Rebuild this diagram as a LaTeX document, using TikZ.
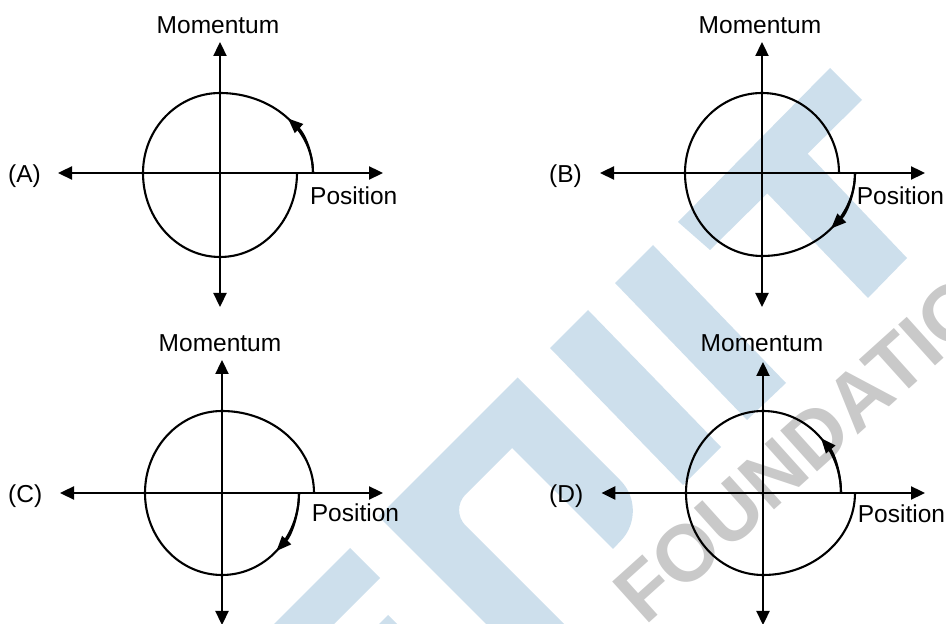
\documentclass[tikz,border=0pt]{standalone}
\usepackage{fontspec}
\setmainfont{Liberation Sans}
\usetikzlibrary{arrows.meta}
\definecolor{wmblue}{RGB}{205,223,236}
\definecolor{wmgray}{RGB}{201,201,201}
\begin{document}
\begin{tikzpicture}[x=1pt,y=1pt,
  axis/.style={line width=2.3pt, {Triangle[length=14pt,width=13pt]}-{Triangle[length=14pt,width=13pt]}},
  orbit/.style={line width=2.1pt},
  dirtip/.style={line width=2.1pt, -{Triangle[length=15pt,width=12pt]}},
  lbl/.style={inner sep=0pt, font=\fontsize{24.5}{29}\selectfont},
  band/.style={fill=wmblue, draw=none}]
\useasboundingbox (0,0) rectangle (946,624);
\clip (0,0) rectangle (946,624);
% watermark
\fill[band] (830,556) -- (862,524) -- (710,374) -- (678,402) -- cycle;
\fill[band] (807,471) -- (907,366) -- (868,326) -- (767,431) -- cycle;
\fill[band] (653,379) -- (786,241) -- (747,204) -- (615,341) -- cycle;
\fill[band] (588,314) -- (721,177) -- (683,139) -- (550,276) -- cycle;
\fill[band] (541,-16) -- (502,-16) -- (378.5,107.5) -- (517.5,246.5) [rounded corners=42] -- (650,114) [sharp corners] -- (613,75) -- (512,176) [rounded corners=22] -- (450,114) [sharp corners] -- (580,-16) -- cycle;
\fill[band] (350,76) -- (380,46) -- (318,-16) -- (258,-16) -- cycle;
\fill[band] (388,9) -- (412,-15) -- (364,-15) -- cycle;
\node[rotate=42, anchor=base west, inner sep=0pt, text=wmgray, font=\bfseries\fontsize{80}{90}\selectfont] (wm) at (645,-3) {FOUNDATION};
% Panel A
\begin{scope}[shift={(220,451)}]
  \coordinate (A-l) at (-162,0); \coordinate (A-r) at (163,0);
  \coordinate (A-t) at (0,131); \coordinate (A-b) at (0,-134);
  \draw[axis] (A-l) -- (A-r);
  \draw[axis] (A-b) -- (A-t);
  \draw[orbit] (93,0) arc[start angle=0,end angle=90,x radius=93,y radius=80]
    arc[start angle=90,end angle=180,x radius=77,y radius=80]
    arc[start angle=180,end angle=270,x radius=77,y radius=84]
    arc[start angle=270,end angle=360,x radius=77,y radius=84];
  \draw[dirtip] (93,0) arc[start angle=0,end angle=43,x radius=93,y radius=80];
  \node[lbl,anchor=base] (A-mom) at (-2,139.7) {Momentum};
  \node[lbl,anchor=base west] (A-pos) at (90,-32) {Position};
  \node[lbl,anchor=base west] (A-lab) at (-212,-10) {(A)};
\end{scope}
% Panel B
\begin{scope}[shift={(762,451)}]
  \coordinate (B-l) at (-162,0); \coordinate (B-r) at (163,0);
  \coordinate (B-t) at (0,131); \coordinate (B-b) at (0,-134);
  \draw[axis] (B-l) -- (B-r);
  \draw[axis] (B-b) -- (B-t);
  \draw[orbit] (77,0) arc[start angle=0,end angle=90,x radius=77,y radius=80]
    arc[start angle=90,end angle=180,x radius=77,y radius=80]
    arc[start angle=180,end angle=270,x radius=77,y radius=83]
    arc[start angle=270,end angle=360,x radius=93,y radius=83];
  \draw[dirtip] (93,0) arc[start angle=0,end angle=-42,x radius=93,y radius=83];
  \node[lbl,anchor=base] (B-mom) at (-2,139.7) {Momentum};
  \node[lbl,anchor=base west] (B-pos) at (94.7,-32) {Position};
  \node[lbl,anchor=base west] (B-lab) at (-213,-10) {(B)};
\end{scope}
% Panel C
\begin{scope}[shift={(222,131)}]
  \coordinate (C-l) at (-162,0); \coordinate (C-r) at (161,0);
  \coordinate (C-t) at (0,133); \coordinate (C-b) at (0,-132);
  \draw[axis] (C-l) -- (C-r);
  \draw[axis] (C-b) -- (C-t);
  \draw[orbit] (92,0) arc[start angle=0,end angle=90,x radius=92,y radius=82]
    arc[start angle=90,end angle=180,x radius=77,y radius=82]
    arc[start angle=180,end angle=270,x radius=77,y radius=82]
    arc[start angle=270,end angle=360,x radius=77,y radius=82];
  \draw[dirtip] (77,0) arc[start angle=0,end angle=-45,x radius=77,y radius=82];
  \node[lbl,anchor=base] (C-mom) at (-2,141.3) {Momentum};
  \node[lbl,anchor=base west] (C-pos) at (89.7,-28.7) {Position};
  \node[lbl,anchor=base west] (C-lab) at (-214,-10) {(C)};
\end{scope}
% Panel D
\begin{scope}[shift={(763,131)}]
  \coordinate (D-l) at (-161.6,0); \coordinate (D-r) at (162,0);
  \coordinate (D-t) at (0,131); \coordinate (D-b) at (0,-132);
  \draw[axis] (D-l) -- (D-r);
  \draw[axis] (D-b) -- (D-t);
  \draw[orbit] (78,0) arc[start angle=0,end angle=90,x radius=78,y radius=82]
    arc[start angle=90,end angle=180,x radius=77,y radius=82]
    arc[start angle=180,end angle=270,x radius=77,y radius=82]
    arc[start angle=270,end angle=360,x radius=92,y radius=82];
  \draw[dirtip] (78,0) arc[start angle=0,end angle=42,x radius=78,y radius=82];
  \node[lbl,anchor=base] (D-mom) at (-1,141.3) {Momentum};
  \node[lbl,anchor=base west] (D-pos) at (94.7,-29.7) {Position};
  \node[lbl,anchor=base west] (D-lab) at (-214,-10) {(D)};
\end{scope}
\end{tikzpicture}
\end{document}
